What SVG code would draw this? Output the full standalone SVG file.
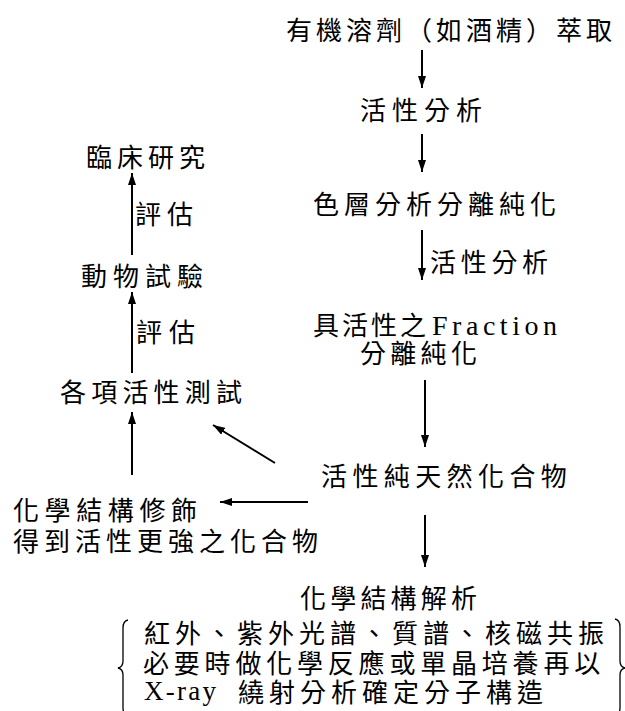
<svg xmlns="http://www.w3.org/2000/svg" width="625" height="711" viewBox="0 0 625 711">
<defs>
<style>
.t{font-family:"Noto Sans CJK TC","Noto Sans CJK SC",sans-serif;font-size:26px;fill:#000;}
.l{font-family:"Liberation Serif",serif;fill:#000;}
.c{stroke:#000;stroke-width:2;fill:none;}
.b{stroke:#000;stroke-width:1.3;fill:none;}
</style>
<marker id="ah" viewBox="0 0 12 8" refX="12" refY="4" markerWidth="12" markerHeight="8" markerUnits="userSpaceOnUse" orient="auto">
<path d="M0,0 L12,4 L0,8 z" fill="#000"/>
</marker>
</defs>
<rect width="625" height="711" fill="#fff"/>

<g id="n-extract"><text class="t" x="286" y="40" letter-spacing="4">有機溶劑（如酒精）萃取</text></g>
<g id="n-assay1"><text class="t" x="360" y="120" letter-spacing="6">活性分析</text></g>
<g id="n-chrom"><text class="t" x="313" y="214" letter-spacing="5">色層分析分離純化</text></g>
<g id="n-fraction">
<text class="t" x="313" y="335" letter-spacing="3">具活性之</text>
<text class="l" x="432" y="335" font-size="28" textLength="125" lengthAdjust="spacing">Fraction</text>
<text class="t" x="360" y="363" letter-spacing="4.3">分離純化</text>
</g>
<g id="n-pure"><text class="t" x="321" y="486" letter-spacing="5.4">活性純天然化合物</text></g>
<g id="n-struct">
<text class="t" x="300" y="608" letter-spacing="4.2">化學結構解析</text>
<text class="t" x="144" y="643" letter-spacing="5">紅外、紫外光譜、質譜、核磁共振</text>
<text class="t" x="143" y="673" letter-spacing="4.8">必要時做化學反應或單晶培養再以</text>
<text class="l" x="144" y="700" font-size="27" textLength="72" lengthAdjust="spacing">X-ray</text>
<text class="t" x="238" y="702" letter-spacing="5">繞射分析確定分子構造</text>
<path class="b" d="M128,620 Q123,621 123,628 L123,661 Q123,667 118,668 Q123,669 123,675 L123,708 Q123,714 128,716"/>
<path class="b" d="M615,619 Q620,620 620,627 L620,661 Q620,667 625,668 Q620,669 620,675 L620,708 Q620,714 615,716"/>
</g>
<g id="n-modify">
<text class="t" x="13" y="520" letter-spacing="5.6">化學結構修飾</text>
<text class="t" x="13" y="551" letter-spacing="5">得到活性更強之化合物</text>
</g>
<g id="n-tests"><text class="t" x="60" y="402" letter-spacing="5.2">各項活性測試</text></g>
<g id="n-animal"><text class="t" x="81" y="286" letter-spacing="6">動物試驗</text></g>
<g id="n-clinical"><text class="t" x="86" y="167" letter-spacing="5">臨床研究</text></g>

<g id="labels">
<text class="t" x="430" y="272" letter-spacing="4.7">活性分析</text>
<text class="t" x="135" y="224" letter-spacing="6">評估</text>
<text class="t" x="136" y="342" letter-spacing="7">評估</text>
</g>

<g id="connectors">
<line class="c" x1="422" y1="50" x2="422" y2="88" marker-end="url(#ah)"/>
<line class="c" x1="422" y1="134" x2="422" y2="172" marker-end="url(#ah)"/>
<line class="c" x1="422" y1="230" x2="422" y2="280" marker-end="url(#ah)"/>
<line class="c" x1="425" y1="380" x2="425" y2="447" marker-end="url(#ah)"/>
<line class="c" x1="425" y1="515" x2="425" y2="567" marker-end="url(#ah)"/>
<line class="c" x1="132" y1="255" x2="132" y2="173" marker-end="url(#ah)"/>
<line class="c" x1="132" y1="373" x2="132" y2="292" marker-end="url(#ah)"/>
<line class="c" x1="132" y1="475" x2="132" y2="412" marker-end="url(#ah)"/>
<line class="c" x1="275" y1="463" x2="213" y2="425" stroke-width="1.6" marker-end="url(#ah)"/>
<line class="c" x1="308" y1="502" x2="220" y2="502" marker-end="url(#ah)"/>
</g>
</svg>
